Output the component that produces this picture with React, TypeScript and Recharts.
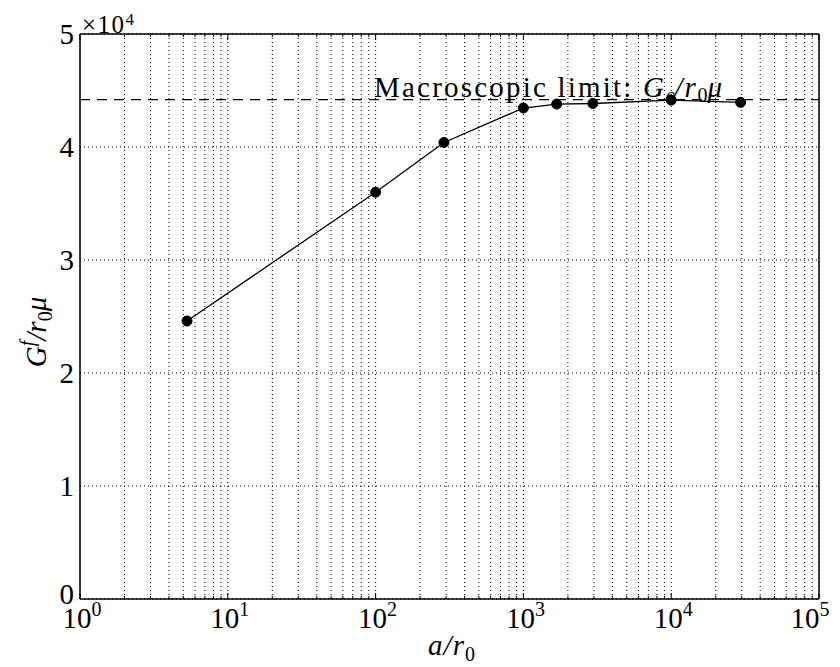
import React from "react";
import { LineChart, Line, XAxis, YAxis, CartesianGrid, ReferenceLine } from "recharts";

const A_VALUES = [5.3, 100, 290, 1000, 1680, 2950, 10000, 29500];
const G_VALUES = [24600, 36000, 40400, 43450, 43800, 43850, 44150, 43950];
const MACRO_LIMIT = 44200;
const Y_TICKS = [0, 10000, 20000, 30000, 40000, 50000];

const X_ALL: number[] = [];
for (let d = 0; d < 5; d++) {
  for (let m = 1; m <= 9; m++) X_ALL.push(m * Math.pow(10, d));
}
X_ALL.push(100000);

const data = A_VALUES.map((a, i) => ({ a, g: G_VALUES[i] }));

const FONT = "'Liberation Serif', 'DejaVu Serif', serif";
const W = 832;
const H = 659;
const M = { top: 26, right: 21, bottom: 8, left: 12 };
const Y_W = 60;
const X_H = 60;
const PLOT_H = H - M.top - M.bottom - X_H;
const X_MARGIN = 8;
const FS = 29;
const FS_SUB = 20;

const XTick = (props: any) => {
  const { x, y, payload } = props;
  const v = payload.value as number;
  const lg = Math.log10(v);
  const major = Math.abs(lg - Math.round(lg)) < 1e-9;
  const axisY = y - X_MARGIN;
  const len = major ? 6 : 3;
  const shift = Math.round(lg) === 5 ? -9 : 2;
  return (
    <g>
      <line x1={x} x2={x} y1={axisY} y2={axisY - len} stroke="#000" strokeWidth={1} />
      <line x1={x} x2={x} y1={axisY - PLOT_H} y2={axisY - PLOT_H + len} stroke="#000" strokeWidth={1} />
      {major && (
        <text x={x + shift} y={axisY + 29} textAnchor="middle" fontFamily={FONT} fontSize={FS} fill="#000">
          <tspan>10</tspan>
          <tspan dy={-12} fontSize={FS_SUB}>{Math.round(lg)}</tspan>
        </text>
      )}
    </g>
  );
};

const YTick = (props: any) => {
  const { x, y, payload } = props;
  const dy = payload.value === 0 ? 5 : 10;
  return (
    <text x={x} y={y + dy} textAnchor="end" fontFamily={FONT} fontSize={FS} fill="#000">
      {Math.round(payload.value / 10000)}
    </text>
  );
};

const MacroLabel = (props: any) => {
  const vb = props.viewBox || {};
  const x0 = vb.x ?? 0;
  const y0 = vb.y ?? 0;
  return (
    <text x={x0 + 294} y={y0 - 3} fontFamily={FONT} fontSize={29} fill="#000">
      <tspan letterSpacing={2.2}>Macroscopic limit: </tspan>
      <tspan fontStyle="italic" letterSpacing={1.8}>G</tspan>
      <tspan fontStyle="italic" fontSize={20} dy={5}>c</tspan>
      <tspan fontStyle="italic" letterSpacing={1.8} dy={-5}>/r</tspan>
      <tspan fontSize={20} dy={5}>0</tspan>
      <tspan fontStyle="italic" dy={-5}>μ</tspan>
    </text>
  );
};

export default function App() {
  return (
    <LineChart width={W} height={H} data={data} margin={M}>
      <CartesianGrid stroke="#000" strokeDasharray="1 3" strokeWidth={1} />
      <XAxis
        dataKey="a"
        type="number"
        scale="log"
        domain={[1, 100000]}
        ticks={X_ALL}
        interval={0}
        allowDataOverflow
        height={X_H}
        tickSize={0}
        tickMargin={X_MARGIN}
        tick={<XTick />}
        axisLine={{ stroke: "#000", strokeWidth: 1.5 }}
      />
      <YAxis
        type="number"
        domain={[0, 50000]}
        ticks={Y_TICKS}
        interval={0}
        width={Y_W}
        tickSize={0}
        tickMargin={6}
        tick={<YTick />}
        axisLine={{ stroke: "#000", strokeWidth: 1.5 }}
      />
      <ReferenceLine y={50000} stroke="#000" strokeWidth={1.5} />
      <ReferenceLine x={100000} stroke="#000" strokeWidth={1.5} />
      <ReferenceLine
        y={MACRO_LIMIT}
        stroke="#000"
        strokeWidth={1.3}
        strokeDasharray="10 7"
        label={<MacroLabel />}
      />
      <Line
        dataKey="g"
        stroke="#000"
        strokeWidth={1.3}
        isAnimationActive={false}
        dot={{ r: 5, fill: "#000", stroke: "#000", strokeWidth: 1 }}
      />
      <text x={74} y={25} fontFamily={FONT} fontSize={25} letterSpacing={1.5} fill="#000">
        <tspan>×10</tspan>
        <tspan dy={-8} fontSize={17}>4</tspan>
      </text>
      <text x={444} y={647} textAnchor="middle" fontFamily={FONT} fontSize={FS} letterSpacing={1} fill="#000">
        <tspan fontStyle="italic">a/r</tspan>
        <tspan fontSize={FS_SUB} dy={6}>0</tspan>
      </text>
      <text
        x={0}
        y={0}
        transform="translate(38, 324) rotate(-90)"
        textAnchor="middle"
        fontFamily={FONT}
        fontSize={FS}
        fill="#000"
      >
        <tspan fontStyle="italic">G</tspan>
        <tspan fontStyle="italic" fontSize={FS_SUB} dy={-12}>f</tspan>
        <tspan fontStyle="italic" dy={12}>/r</tspan>
        <tspan fontSize={FS_SUB} dy={6}>0</tspan>
        <tspan fontStyle="italic" dy={-6}>μ</tspan>
      </text>
    </LineChart>
  );
}
